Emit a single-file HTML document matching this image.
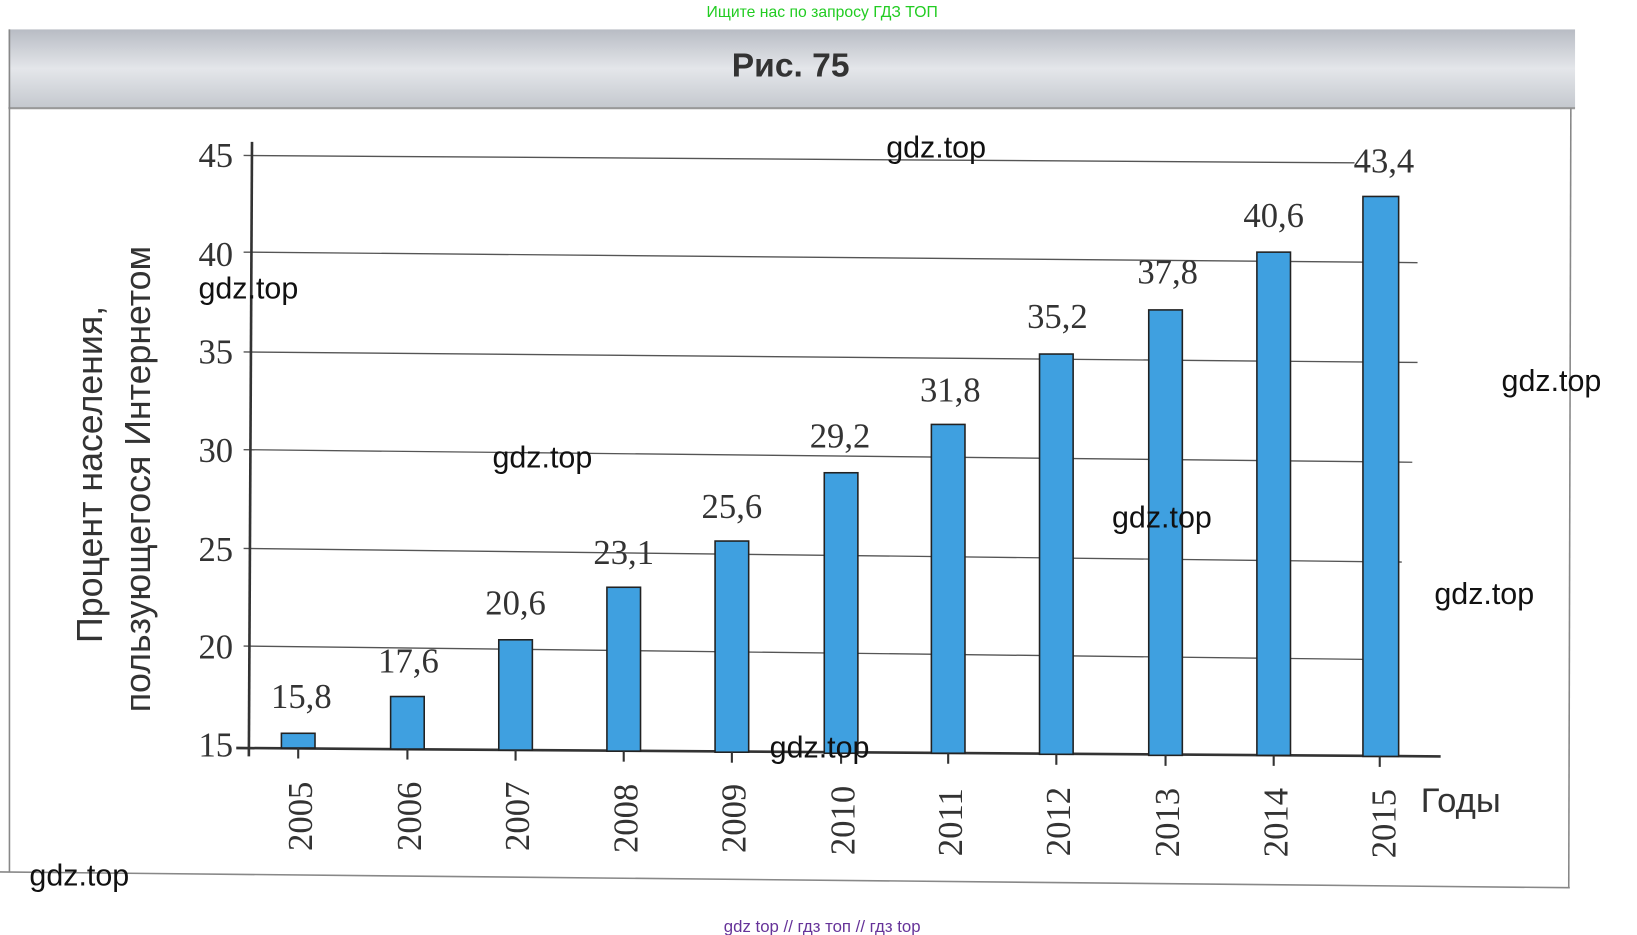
<!DOCTYPE html>
<html><head><meta charset="utf-8"><style>
html,body{margin:0;padding:0;background:#fff;}
svg{display:block}
</style></head><body>
<svg width="1637" height="935" viewBox="0 0 1559 890" preserveAspectRatio="none" xmlns="http://www.w3.org/2000/svg">
<defs>
<linearGradient id="hg" x1="0" y1="0" x2="0" y2="1">
<stop offset="0" stop-color="#b8bcc4"/><stop offset="0.5" stop-color="#e4e6ea"/><stop offset="1" stop-color="#c4c8ce"/>
</linearGradient>
</defs>
<rect width="1559" height="890" fill="#fff"/>
<text x="783" y="16" font-family="Liberation Sans, sans-serif" font-size="15" fill="#22cc22" text-anchor="middle">Ищите нас по запросу ГДЗ ТОП</text>
<rect x="8" y="28" width="1492" height="75" fill="url(#hg)"/>
<line x1="8" y1="103" x2="1500" y2="103" stroke="#999" stroke-width="2"/>
<text x="753" y="73" font-family="Liberation Sans, sans-serif" font-size="32" font-weight="bold" fill="#333" text-anchor="middle">Рис. 75</text>
<line x1="9" y1="28" x2="9" y2="830" stroke="#888" stroke-width="1.5"/>
<line x1="1496" y1="103" x2="1494" y2="845" stroke="#888" stroke-width="1.5"/>
<line x1="0" y1="830" x2="1495" y2="845" stroke="#888" stroke-width="1.5"/>
<g stroke="#555" stroke-width="1.3" fill="none">
<line x1="232" y1="148" x2="1290" y2="155"/>
<line x1="232" y1="240" x2="1350" y2="250"/>
<line x1="232" y1="335" x2="1350" y2="345"/>
<line x1="232" y1="428" x2="1345" y2="440"/>
<line x1="232" y1="522" x2="1335" y2="535"/>
<line x1="232" y1="615" x2="1330" y2="628"/>
</g>
<line x1="240" y1="135" x2="237" y2="720" stroke="#333" stroke-width="2.5"/>
<line x1="225" y1="712" x2="1372" y2="720" stroke="#333" stroke-width="2.5"/>
<g fill="#3fa0e0" stroke="#222" stroke-width="1.5">
<rect x="268" y="698" width="32" height="14"/>
<rect x="372" y="663" width="32" height="50"/>
<rect x="475" y="609" width="32" height="105"/>
<rect x="578" y="559" width="32" height="156"/>
<rect x="681" y="515" width="32" height="201"/>
<rect x="785" y="450" width="32" height="267"/>
<rect x="887" y="404" width="32" height="313"/>
<rect x="990" y="337" width="32" height="381"/>
<rect x="1094" y="295" width="32" height="424"/>
<rect x="1197" y="240" width="32" height="479"/>
<rect x="1298" y="187" width="34" height="533"/>
</g>
<g stroke="#333" stroke-width="2">
<line x1="284" y1="712" x2="284" y2="722"/><line x1="388" y1="713" x2="388" y2="723"/><line x1="491" y1="714" x2="491" y2="724"/><line x1="594" y1="715" x2="594" y2="725"/><line x1="697" y1="716" x2="697" y2="726"/><line x1="801" y1="717" x2="801" y2="727"/><line x1="903" y1="717" x2="903" y2="727"/><line x1="1006" y1="718" x2="1006" y2="728"/><line x1="1110" y1="719" x2="1110" y2="729"/><line x1="1213" y1="719" x2="1213" y2="729"/><line x1="1314" y1="720" x2="1314" y2="730"/>
</g>
<g font-family="Liberation Serif, serif" font-size="33" fill="#333" text-anchor="end">
<text x="222" y="159">45</text><text x="222" y="253">40</text><text x="222" y="346">35</text><text x="222" y="440">30</text><text x="222" y="534">25</text><text x="222" y="627">20</text><text x="222" y="720">15</text>
</g>
<g font-family="Liberation Serif, serif" font-size="33" fill="#333" text-anchor="middle">
<text x="287" y="674">15,8</text><text x="389" y="640">17,6</text><text x="491" y="585">20,6</text><text x="594" y="537">23,1</text><text x="697" y="493">25,6</text><text x="800" y="426">29,2</text><text x="905" y="382">31,8</text><text x="1007" y="312">35,2</text><text x="1112" y="270">37,8</text><text x="1213" y="216">40,6</text><text x="1318" y="164">43,4</text>
</g>
<g font-family="Liberation Serif, serif" font-size="33" fill="#333">
<text transform="translate(297,810) rotate(-90)">2005</text>
<text transform="translate(401,810) rotate(-90)">2006</text>
<text transform="translate(504,810) rotate(-90)">2007</text>
<text transform="translate(607,812) rotate(-90)">2008</text>
<text transform="translate(710,812) rotate(-90)">2009</text>
<text transform="translate(814,814) rotate(-90)">2010</text>
<text transform="translate(916,815) rotate(-90)">2011</text>
<text transform="translate(1019,815) rotate(-90)">2012</text>
<text transform="translate(1123,816) rotate(-90)">2013</text>
<text transform="translate(1226,816) rotate(-90)">2014</text>
<text transform="translate(1329,817) rotate(-90)">2015</text>
</g>
<text x="1353" y="773" font-family="Liberation Sans, sans-serif" font-size="33" fill="#333">Годы</text>
<g font-family="Liberation Sans, sans-serif" font-size="34" fill="#333">
<text transform="translate(97,612) rotate(-90)">Процент населения,</text>
<text transform="translate(143,678) rotate(-90)">пользующегося Интернетом</text>
</g>
<g font-family="Liberation Sans, sans-serif" font-size="29" fill="#111">
<text x="844" y="150">gdz.top</text><text x="189" y="284">gdz.top</text><text x="1430" y="372">gdz.top</text><text x="469" y="445">gdz.top</text><text x="1059" y="502">gdz.top</text><text x="1366" y="575">gdz.top</text><text x="733" y="721">gdz.top</text><text x="28" y="843">gdz.top</text>
</g>
<text x="783" y="887" font-family="Liberation Sans, sans-serif" font-size="16" fill="#663399" text-anchor="middle">gdz top  //  гдз топ  //  гдз top</text>
</svg>
</body></html>
